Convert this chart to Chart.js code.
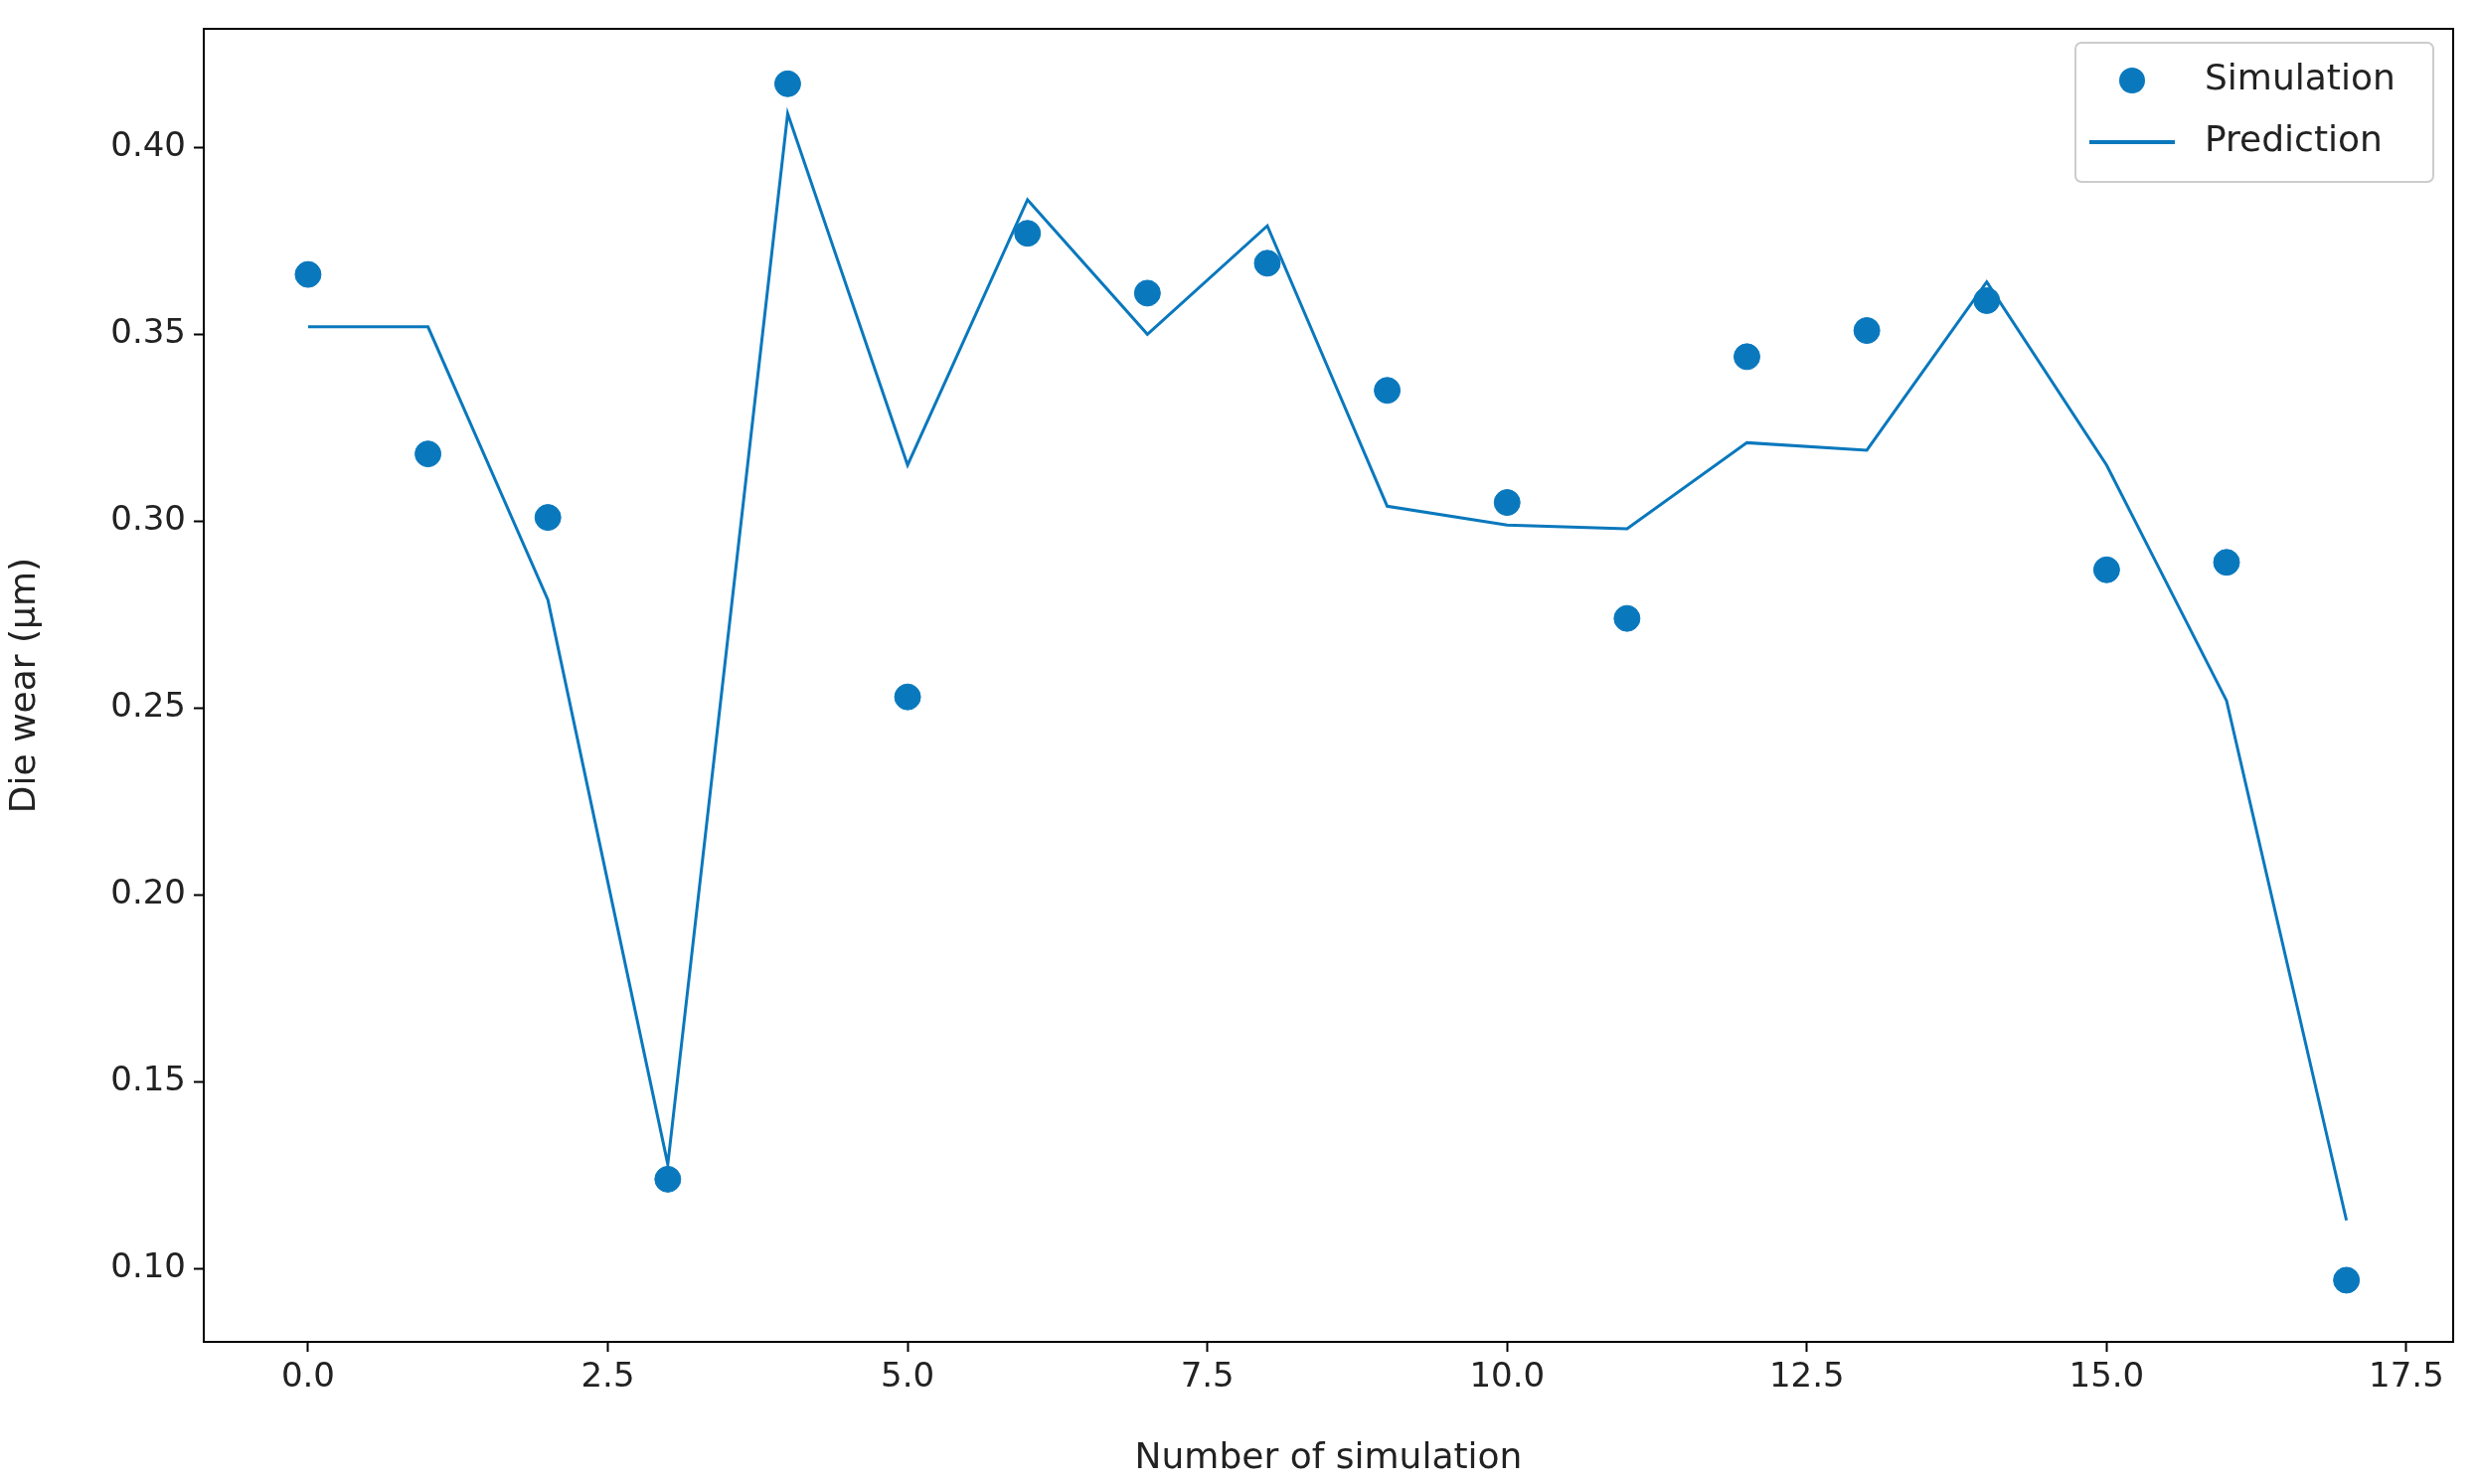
<!DOCTYPE html>
<html>
<head>
<meta charset="utf-8">
<script src="https://cdn.jsdelivr.net/npm/chart.js@4/dist/chart.umd.min.js"></script>
<style>
  html, body { margin: 0; padding: 0; background: #fff; }
  #wrap { width: 2495px; height: 1493px; }
</style>
</head>
<body>
<div id="wrap"><canvas id="c"></canvas></div>
<script>
// values
const runs = [0, 1, 2, 3, 4, 5, 6, 7, 8, 9, 10, 11, 12, 13, 14, 15, 16, 17];
const simulation = [0.366, 0.318, 0.301, 0.124, 0.417, 0.253, 0.377, 0.361, 0.369, 0.335,
  0.305, 0.274, 0.344, 0.351, 0.359, 0.287, 0.289, 0.097];
const prediction = [0.352, 0.352, 0.279, 0.128, 0.409, 0.315, 0.386, 0.350, 0.379, 0.304,
  0.299, 0.298, 0.321, 0.319, 0.364, 0.315, 0.252, 0.113];
const xTicks = [0, 2.5, 5, 7.5, 10, 12.5, 15, 17.5];
const yTicks = [0.10, 0.15, 0.20, 0.25, 0.30, 0.35, 0.40];

const COL = '#0a78bd';
const FONT = 'DejaVu Sans';

const frame = {
  id: 'frame',
  afterDraw(chart) {
    const { ctx, chartArea: a } = chart;
    ctx.save();
    ctx.strokeStyle = '#000';
    ctx.lineWidth = 2;
    ctx.strokeRect(a.left, a.top, a.right - a.left, a.bottom - a.top);

    // legend box, top-right inside the plot
    const w = 360, h = 140, x = a.right - w - 20, y = a.top + 14;
    ctx.fillStyle = 'rgba(255,255,255,0.85)';
    ctx.strokeStyle = '#ccc';
    ctx.lineWidth = 2;
    ctx.beginPath();
    ctx.roundRect(x, y, w, h, 6);
    ctx.fill();
    ctx.stroke();
    ctx.fillStyle = COL;
    ctx.beginPath();
    ctx.arc(x + 57, y + 38, 13, 0, Math.PI * 2);
    ctx.fill();
    ctx.strokeStyle = COL;
    ctx.lineWidth = 4;
    ctx.beginPath();
    ctx.moveTo(x + 14, y + 100);
    ctx.lineTo(x + 100, y + 100);
    ctx.stroke();
    ctx.fillStyle = '#222';
    ctx.font = `36px "${FONT}"`;
    ctx.textBaseline = 'middle';
    ctx.fillText(chart.data.datasets[0].label, x + 130, y + 38);
    ctx.fillText(chart.data.datasets[1].label, x + 130, y + 100);
    ctx.restore();
  }
};

const tickFont = { family: FONT, size: 34 };
const tickGrid = { display: true, drawOnChartArea: false, drawTicks: true, tickLength: 10, tickColor: '#000', tickWidth: 2 };

new Chart(document.getElementById('c'), {
  type: 'scatter',
  data: {
    datasets: [
      {
        label: 'Simulation',
        data: runs.map((r, i) => ({ x: r, y: simulation[i] })),
        backgroundColor: COL,
        borderColor: COL,
        pointRadius: 13,
        order: 1
      },
      {
        type: 'line',
        label: 'Prediction',
        data: runs.map((r, i) => ({ x: r, y: prediction[i] })),
        borderColor: COL,
        borderWidth: 3,
        pointRadius: 0,
        fill: false,
        tension: 0,
        order: 2
      }
    ]
  },
  options: {
    responsive: true,
    maintainAspectRatio: false,
    animation: false,
    layout: { padding: { top: 29, right: 27, left: 0, bottom: 0 } },
    plugins: { legend: { display: false }, tooltip: { enabled: false } },
    scales: {
      x: {
        type: 'linear',
        min: -0.87,
        max: 17.89,
        afterBuildTicks: s => { s.ticks = xTicks.map(v => ({ value: v })); },
        afterFit: s => { s.height = 143; },
        grid: tickGrid,
        border: { display: false },
        ticks: { color: '#222', font: tickFont, maxRotation: 0, padding: 6, callback: v => v.toFixed(1) },
        title: { display: true, text: 'Number of simulation', color: '#222', font: { family: FONT, size: 36 }, padding: { top: 0 } }
      },
      y: {
        min: 0.0805,
        max: 0.4317,
        afterBuildTicks: s => { s.ticks = yTicks.map(v => ({ value: v })); },
        afterFit: s => { s.width = 205; },
        grid: tickGrid,
        border: { display: false },
        ticks: { color: '#222', font: tickFont, padding: 8, callback: v => v.toFixed(2) },
        title: { display: true, text: 'Die wear (μm)', color: '#222', font: { family: FONT, size: 36 }, padding: { bottom: 6 } }
      }
    }
  },
  plugins: [frame]
});
</script>
</body>
</html>
